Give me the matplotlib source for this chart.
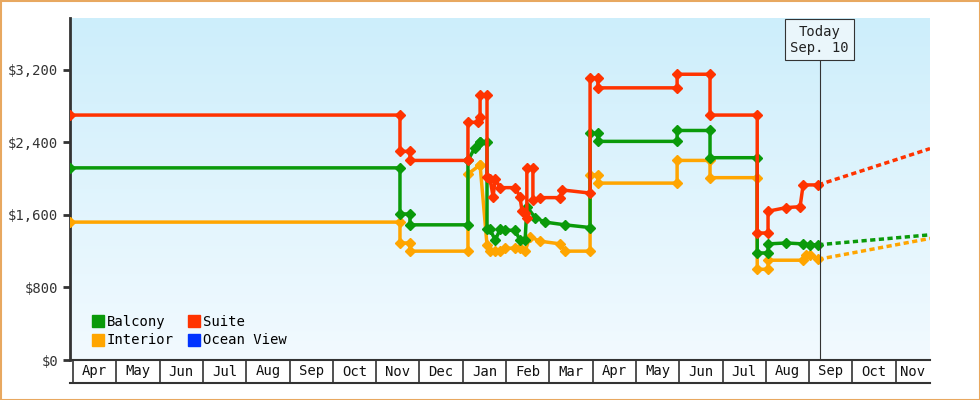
import matplotlib
matplotlib.use("Agg")
import matplotlib.pyplot as plt
import numpy as np
from matplotlib.lines import Line2D
from matplotlib.patches import Rectangle
from matplotlib.colors import LinearSegmentedColormap

plt.rcParams['font.family'] = ['DejaVu Sans Mono']

months = ["Apr","May","Jun","Jul","Aug","Sep","Oct","Nov","Dec","Jan","Feb","Mar",
          "Apr","May","Jun","Jul","Aug","Sep","Oct","Nov"]

suite_x = [-0.07,7.55,7.55,7.78,7.78,9.12,9.12,9.35,9.40,9.40,9.56,9.56,9.63,9.70,9.75,9.86,10.21,10.32,10.37,10.44,10.48,10.48,10.62,10.62,10.78,11.25,11.29,11.94,11.94,12.12,12.12,13.95,13.95,14.71,14.71,15.80,15.80,16.05,16.05,16.47,16.79,16.86,17.21]
suite_y = [2700,2700,2300,2300,2200,2200,2620,2620,2680,2920,2920,2020,2000,1800,2000,1900,1900,1800,1640,1620,1560,2120,2120,1760,1790,1790,1875,1840,3110,3110,3000,3000,3150,3150,2700,2700,1400,1400,1640,1680,1690,1930,1930]
suite_fx = [17.21,19.79]
suite_fy = [1930,2330]

balc_x = [-0.07,7.55,7.55,7.78,7.78,9.12,9.12,9.28,9.40,9.40,9.56,9.56,9.63,9.75,9.86,9.98,10.21,10.32,10.44,10.48,10.67,10.90,11.36,11.94,11.94,12.12,12.12,13.95,13.95,14.71,14.71,15.80,15.80,16.05,16.05,16.47,16.86,17.02,17.21]
balc_y = [2118,2118,1610,1610,1490,1490,2200,2340,2400,2400,2400,1440,1440,1320,1440,1430,1430,1320,1320,1690,1570,1520,1490,1460,2500,2500,2410,2410,2530,2530,2230,2230,1180,1180,1280,1290,1280,1270,1270]
balc_fx = [17.21,19.79]
balc_fy = [1270,1380]

int_x = [-0.07,7.55,7.55,7.78,7.78,9.12,9.12,9.40,9.40,9.56,9.63,9.75,9.86,9.98,10.21,10.32,10.44,10.55,10.78,11.25,11.36,11.94,11.94,12.12,12.12,13.95,13.95,14.71,14.71,15.80,15.80,16.05,16.05,16.86,16.93,17.02,17.21]
int_y = [1520,1520,1290,1290,1200,1200,2050,2150,2150,1270,1200,1200,1200,1230,1235,1230,1200,1360,1310,1280,1200,1200,2040,2040,1950,1950,2200,2200,2010,2010,1000,1000,1100,1100,1160,1160,1110]
int_fx = [17.21,19.79]
int_fy = [1110,1340]

W, H = 980, 400
fig = plt.figure(figsize=(W/100, H/100), dpi=100)
fig.patch.set_facecolor('white')
fig.add_artist(Rectangle((0.5/W, 0.5/H), 1-1/W, 1-1/H, transform=fig.transFigure,
                         fill=False, edgecolor='#e8a860', lw=1.5))
ax = fig.add_axes([70/W, 40/H, 860/W, 342/H])
xmin, xmax, ymin, ymax = -0.07, 19.79, 0, 3770
grad = np.linspace(0, 1, 256).reshape(-1, 1)
cm = LinearSegmentedColormap.from_list('g', ['#cdeefb', '#f2faff'])
ax.imshow(grad, extent=[xmin, xmax, ymin, ymax], aspect='auto', cmap=cm, origin='upper', zorder=0)
ax.set_xlim(xmin, xmax); ax.set_ylim(ymin, ymax)

GREEN, RED, ORANGE, BLUE = '#0a9a0a', '#ff3300', '#ffa500', '#0033ff'
for xs, ys, fx, fy, c in [(int_x, int_y, int_fx, int_fy, ORANGE),
                          (balc_x, balc_y, balc_fx, balc_fy, GREEN),
                          (suite_x, suite_y, suite_fx, suite_fy, RED)]:
    ax.plot(xs, ys, color=c, lw=2.5, marker='D', ms=5.5, zorder=3)
    ax.plot(fx, fy, color=c, lw=2.5, ls=(0, (1.5, 1)), zorder=3)

for s in ['top', 'right', 'bottom']:
    ax.spines[s].set_visible(False)
ax.spines['left'].set_color('#333333'); ax.spines['left'].set_linewidth(2)
ax.set_xticks([])
ax.set_yticks([0, 800, 1600, 2400, 3200])
ax.set_yticklabels(['$0', '$800', '$1,600', '$2,400', '$3,200'], fontsize=10, color='#333333')
ax.tick_params(axis='y', length=5, width=2, color='#333333')

ybot = -23 * 3770 / 342
ax.plot([xmin, xmax], [0, 0], color='#333333', lw=1.5, clip_on=False)
ax.plot([xmin, xmax], [ybot, ybot], color='#333333', lw=1.5, clip_on=False)
for i in range(20):
    ax.plot([i, i], [0, ybot], color='#333333', lw=1.2, clip_on=False)
    cx = i + 0.5 if i < 19 else (19 + xmax) / 2
    ax.text(cx, ybot / 2, months[i], ha='center', va='center', fontsize=10, color='#111111')

tx = 17.24
ax.plot([tx, tx], [0, 3450], color='#333333', lw=0.8, zorder=4)
ax.text(tx, 3530, "Today\nSep. 10", ha='center', va='center', fontsize=10, color='#222222',
        bbox=dict(boxstyle='square,pad=0.4', fc='#eaf6fb', ec='#333333', lw=0.8), zorder=5)

handles = [Line2D([], [], marker='s', ls='', color=GREEN, ms=9),
           Line2D([], [], marker='s', ls='', color=ORANGE, ms=9),
           Line2D([], [], marker='s', ls='', color=RED, ms=9),
           Line2D([], [], marker='s', ls='', color=BLUE, ms=9)]
leg = ax.legend(handles, ['Balcony', 'Interior', 'Suite', 'Ocean View'], ncol=2, loc='lower left',
                bbox_to_anchor=(0.01, 0.0), frameon=False, fontsize=10, handletextpad=0.1,
                columnspacing=1.0, labelspacing=0.3, handlelength=1.0)
fig.savefig('out.png', dpi=100)
